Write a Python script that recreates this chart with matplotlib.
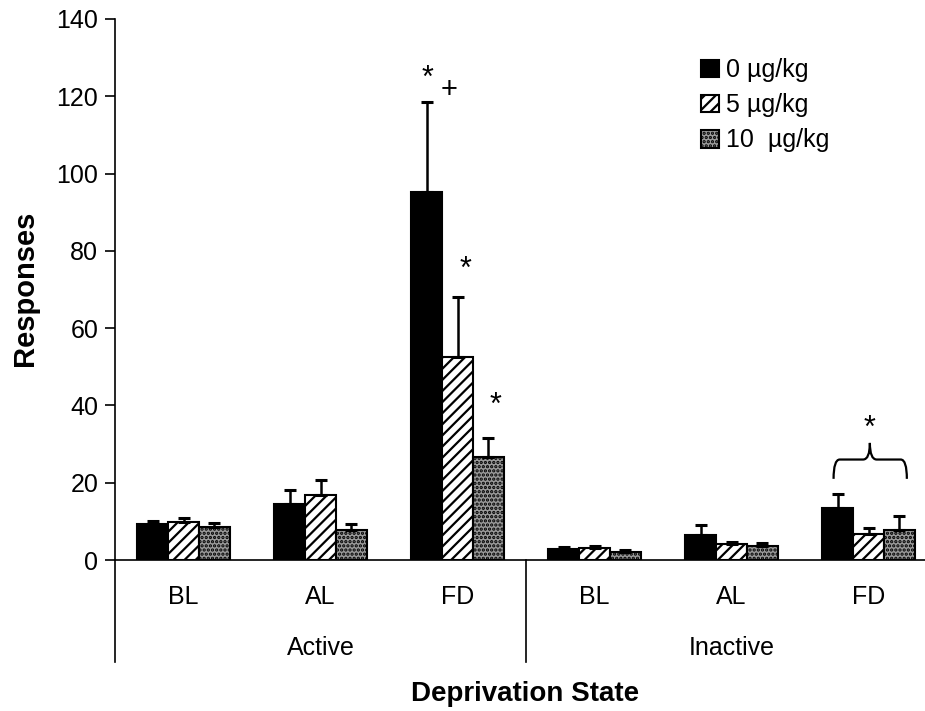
import numpy as np
import matplotlib
matplotlib.use('Agg')
from matplotlib import pyplot as plt
from matplotlib.path import Path
from matplotlib.patches import PathPatch

plt.rcParams['font.family'] = ['Liberation Sans', 'DejaVu Sans']
plt.rcParams['hatch.linewidth'] = 1.6

states = ['BL', 'AL', 'FD', 'BL', 'AL', 'FD']
groups = ['Active', 'Inactive']
doses = ['0 µg/kg', '5 µg/kg', '10  µg/kg']

mean_0 = [9.3, 14.4, 95.3, 2.8, 6.5, 13.5]
err_0 = [0.9, 3.7, 23.3, 0.6, 2.5, 3.7]
mean_5 = [9.8, 16.9, 52.6, 3.2, 4.1, 6.8]
err_5 = [1.1, 3.8, 15.4, 0.5, 0.6, 1.4]
mean_10 = [8.5, 7.8, 26.6, 2.0, 3.7, 7.8]
err_10 = [1.1, 1.6, 4.9, 0.6, 0.8, 3.6]

fig = plt.figure(figsize=(9.25, 7.11), dpi=100)
ax = fig.add_axes([115 / 925, 1 - 560 / 711, 822 / 925, 541 / 711])

x = np.arange(len(states))
w = 0.226
styles = [
    dict(color='black', edgecolor='black'),
    dict(color='white', edgecolor='black', hatch='///'),
    dict(color='#9a9a9a', edgecolor='black', hatch='....'),
]
series = [(mean_0, err_0), (mean_5, err_5), (mean_10, err_10)]
for i, ((m, e), st, lab) in enumerate(zip(series, styles, doses)):
    xs = x + (i - 1) * w
    ax.bar(xs, m, width=w, linewidth=1.5, label=lab, **st)
    ax.errorbar(xs, m, yerr=[np.zeros(len(m)), e], fmt='none', ecolor='black',
                elinewidth=1.8, capsize=4.5, capthick=2.2)

ax.set_xlim(-0.5, 5.5)
ax.set_ylim(0, 140)
ax.set_yticks(range(0, 141, 20))
ax.tick_params(axis='y', direction='out', length=7, width=1.2, labelsize=18, pad=5)
ax.set_xticks([])
for s in ['top', 'right']:
    ax.spines[s].set_visible(False)
ax.spines['left'].set_linewidth(1.2)
ax.spines['bottom'].set_linewidth(1.2)

tr = ax.get_xaxis_transform()
# extended separators below the axis
ax.plot([-0.5, -0.5], [0, -0.189], transform=tr, color='black', lw=1.2, clip_on=False)
ax.plot([2.5, 2.5], [0, -0.189], transform=tr, color='black', lw=1.2, clip_on=False)

for xi, s in zip(x, states):
    ax.text(xi, -0.068, s, transform=tr, ha='center', va='center', fontsize=18)
ax.text(1, -0.163, groups[0], transform=tr, ha='center', va='center', fontsize=18)
ax.text(4, -0.163, groups[1], transform=tr, ha='center', va='center', fontsize=18)

fig.text(25 / 925, 1 - 288 / 711, 'Responses', rotation=90, ha='center', va='center',
         fontsize=21, fontweight='bold')
fig.text(525 / 925, 1 - 694 / 711, 'Deprivation State', ha='center', va='center',
         fontsize=20, fontweight='bold')

# significance marks
ax.text(1.78, 124.5, '*', ha='center', va='center', fontsize=22)
ax.text(1.94, 121.5, '+', ha='center', va='center', fontsize=21)
ax.text(2.06, 75, '*', ha='center', va='center', fontsize=22)
ax.text(2.28, 40, '*', ha='center', va='center', fontsize=22)
ax.text(5.01, 34, '*', ha='center', va='center', fontsize=22)

# brace over inactive FD
verts = [(4.745, 21), (4.745, 26), (4.79, 26),
         (4.96, 26),
         (5.01, 26), (5.01, 30.3),
         (5.01, 26), (5.06, 26),
         (5.235, 26),
         (5.28, 26), (5.28, 21)]
codes = [Path.MOVETO, Path.CURVE3, Path.CURVE3,
         Path.LINETO,
         Path.CURVE3, Path.CURVE3,
         Path.CURVE3, Path.CURVE3,
         Path.LINETO,
         Path.CURVE3, Path.CURVE3]
ax.add_patch(PathPatch(Path(verts, codes), fill=False, lw=1.6, edgecolor='black'))

leg = ax.legend(loc='upper left', bbox_to_anchor=(701 / 925, 1 - 58 / 711),
                bbox_transform=fig.transFigure, frameon=False, fontsize=18,
                handlelength=0.7, handleheight=0.7, handletextpad=0.3,
                labelspacing=0.45, borderpad=0, borderaxespad=0)

fig.savefig('out.png', dpi=100)
